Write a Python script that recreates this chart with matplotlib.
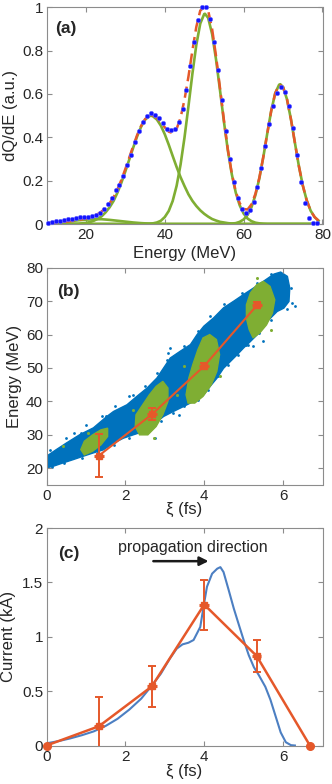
import matplotlib
matplotlib.use('Agg')
import matplotlib.pyplot as plt

plt.rcParams['font.family'] = ['Liberation Sans', 'DejaVu Sans']

# ---------------- Panel (a) data ----------------
dot_energy = [10.5, 11.5, 12.5, 13.5, 14.5, 15.5, 16.5, 17.5, 18.5, 19.5,
              20.5, 21.5, 22.5, 23.5, 24.5, 25.5, 26.5, 27.5, 28.5, 29.5,
              30.5, 31.5, 32.5, 33.5, 34.5, 35.5, 36.5, 37.5, 38.5, 39.5,
              40.5, 41.5, 42.5, 43.5, 44.5, 45.5, 46.5, 47.5, 48.5, 49.5,
              50.5, 51.5, 52.5, 53.5, 54.5, 55.5, 56.5, 57.5, 58.5, 59.5,
              60.5, 61.5, 62.5, 63.5, 64.5, 65.5, 66.5, 67.5, 68.5, 69.5,
              70.5, 71.5, 72.5, 73.5, 74.5, 75.5, 76.5, 77.5, 78.5]
dot_dqde = [0.006, 0.009, 0.012, 0.015, 0.018, 0.021, 0.024, 0.027, 0.030, 0.032,
            0.033, 0.035, 0.040, 0.050, 0.070, 0.090, 0.120, 0.155, 0.180, 0.220,
            0.270, 0.320, 0.380, 0.430, 0.470, 0.500, 0.510, 0.505, 0.490, 0.465,
            0.440, 0.435, 0.440, 0.470, 0.530, 0.620, 0.730, 0.840, 0.940, 1.000,
            1.000, 0.945, 0.840, 0.710, 0.570, 0.430, 0.300, 0.195, 0.120, 0.068,
            0.050, 0.065, 0.100, 0.170, 0.260, 0.360, 0.460, 0.545, 0.605, 0.630,
            0.610, 0.545, 0.445, 0.320, 0.195, 0.098, 0.026, 0.003, 0.003]

fit_energy = [10, 11, 12, 13, 14, 15, 16, 17, 18, 19, 20, 21, 22, 23, 24, 25, 26,
              27, 28, 29, 30, 31, 32, 33, 34, 35, 36, 37, 38, 39, 40, 41, 42, 43,
              44, 45, 46, 47, 48, 49, 50, 51, 52, 53, 54, 55, 56, 57, 58, 59, 60,
              61, 62, 63, 64, 65, 66, 67, 68, 69, 70, 71, 72, 73, 74, 75, 76, 77,
              78, 79]
fit_dqde = [0.003, 0.005, 0.006, 0.008, 0.009, 0.011, 0.013, 0.015, 0.018, 0.022,
            0.025, 0.030, 0.037, 0.046, 0.058, 0.075, 0.096, 0.123, 0.160, 0.204,
            0.254, 0.307, 0.360, 0.411, 0.453, 0.484, 0.500, 0.502, 0.490, 0.470,
            0.446, 0.426, 0.420, 0.439, 0.490, 0.574, 0.680, 0.800, 0.910, 0.985,
            1.000, 0.985, 0.900, 0.775, 0.628, 0.479, 0.343, 0.233, 0.150, 0.096,
            0.069, 0.067, 0.091, 0.140, 0.215, 0.311, 0.419, 0.523, 0.603, 0.643,
            0.632, 0.575, 0.483, 0.375, 0.268, 0.178, 0.109, 0.061, 0.032, 0.015]

comp0_energy = [10, 12, 14, 16, 18, 20, 22, 24, 26, 28, 30, 32, 34, 36, 38, 40, 79]
comp0_dqde = [0.003, 0.006, 0.009, 0.013, 0.017, 0.020, 0.022, 0.022, 0.019, 0.015,
              0.011, 0.007, 0.004, 0.002, 0.001, 0.0, 0.0]

comp1_energy = [10, 18, 19, 20, 21, 22, 23, 24, 25, 26, 27, 28, 29, 30, 31, 32, 33,
                34, 35, 36, 36.5, 37, 38, 39, 40, 41, 42, 43, 44, 45, 46, 47, 48,
                49, 50, 51, 52, 53, 54, 55, 56, 57, 58, 60, 79]
comp1_dqde = [0.0, 0.001, 0.003, 0.005, 0.009, 0.015, 0.024, 0.036, 0.054, 0.077,
              0.106, 0.145, 0.191, 0.243, 0.298, 0.353, 0.405, 0.449, 0.481, 0.497,
              0.500, 0.497, 0.482, 0.454, 0.414, 0.366, 0.314, 0.263, 0.216, 0.175,
              0.137, 0.107, 0.083, 0.063, 0.047, 0.034, 0.023, 0.016, 0.010, 0.007,
              0.004, 0.002, 0.001, 0.0, 0.0]

comp2_energy = [10, 35, 36, 37, 38, 39, 40, 41, 42, 43, 44, 45, 46, 47, 48, 49, 50,
                50.2, 51, 52, 53, 54, 55, 56, 57, 58, 59, 60, 61, 62, 63, 64, 65,
                66, 79]
comp2_dqde = [0.0, 0.0, 0.001, 0.003, 0.007, 0.015, 0.032, 0.060, 0.106, 0.176,
              0.274, 0.399, 0.543, 0.693, 0.827, 0.925, 0.969, 0.970, 0.951, 0.877,
              0.759, 0.618, 0.472, 0.339, 0.229, 0.145, 0.086, 0.048, 0.025, 0.013,
              0.006, 0.003, 0.001, 0.0, 0.0]

comp3_energy = [10, 55, 56, 57, 58, 59, 60, 61, 62, 63, 64, 65, 66, 67, 68, 69, 69.3,
                70, 71, 72, 73, 74, 75, 76, 77, 78, 79]
comp3_dqde = [0.0, 0.0, 0.001, 0.002, 0.004, 0.010, 0.021, 0.042, 0.078, 0.134,
              0.212, 0.310, 0.419, 0.523, 0.603, 0.643, 0.645, 0.632, 0.575, 0.483,
              0.375, 0.268, 0.178, 0.109, 0.061, 0.032, 0.015]

# ---------------- Panel (b) data ----------------
cloud_xi = [0.0, 0.25, 0.51, 0.85, 1.19, 1.53, 1.70, 2.04, 2.29, 2.55, 2.80, 2.97,
            3.14, 3.39, 3.65, 3.82, 3.99, 4.24, 4.49, 4.75, 5.00, 5.26, 5.51,
            5.77, 5.94, 6.11, 6.17, 6.15, 6.02, 5.85, 5.68, 5.51, 5.34, 5.17,
            5.00, 4.83, 4.66, 4.49, 4.32, 4.15, 3.99, 3.73, 3.48, 3.22, 2.97,
            2.70, 2.46, 2.20, 1.95, 1.70, 1.44, 1.19, 0.93, 0.68, 0.42, 0.17, 0.0]
cloud_energy = [23.6, 25.6, 27.6, 30.1, 32.1, 35.5, 37.0, 39.0, 41.5, 44.0, 47.0,
                50.0, 53.0, 55.0, 57.0, 60.0, 62.5, 65.0, 68.0, 70.0, 72.0, 74.0,
                76.0, 78.1, 78.7, 77.4, 73.9, 69.9, 67.9, 66.9, 64.9, 62.9, 59.9,
                57.9, 56.0, 53.9, 51.9, 49.9, 46.9, 44.5, 42.0, 40.0, 38.5, 37.0,
                35.5, 33.0, 31.0, 30.0, 29.0, 27.5, 25.5, 24.6, 23.6, 22.6, 21.6,
                20.6, 20.1]
cloud_out_xi = [2.74, 2.19, 3.08, 5.50, 6.30, 6.22, 3.37, 3.12, 5.24, 5.07, 1.51,
                0.87, 2.44,
                0.10, 0.50, 0.70, 1.00, 1.40, 1.75, 2.10, 2.50, 2.80, 3.05, 3.50,
                3.85, 4.15, 4.50, 4.95, 5.35, 5.70, 6.00, 6.20,
                6.10, 5.70, 5.40, 5.10, 4.85, 4.60, 4.35, 4.10, 3.85, 3.50, 3.20,
                2.90, 2.50, 2.10, 1.70, 1.30, 0.90, 0.45, 0.15]
cloud_out_energy = [29.0, 42.0, 54.5, 58.0, 68.4, 69.4, 36.0, 56.0, 56.5, 57.0,
                    35.5, 30.5, 41.5,
                    25.5, 29.0, 30.5, 33.0, 35.5, 38.5, 41.5, 44.5, 48.5, 52.5,
                    56.5, 61.0, 65.5, 69.0, 72.5, 75.5, 78.0, 77.5, 74.0,
                    67.5, 64.5, 60.5, 57.0, 54.0, 51.0, 47.5, 43.5, 40.5, 38.5,
                    36.5, 34.0, 31.0, 29.0, 27.0, 24.8, 23.0, 21.5, 20.3]

green1_xi = [0.87, 0.96, 1.17, 1.38, 1.55, 1.55, 1.38, 1.17, 0.96]
green1_energy = [25.6, 28.1, 30.0, 31.5, 32.0, 29.5, 27.0, 25.1, 24.0]
green2_xi = [2.27, 2.44, 2.61, 2.78, 2.95, 3.08, 3.08, 2.95, 2.78, 2.57, 2.36, 2.25]
green2_energy = [36.0, 39.0, 42.0, 44.5, 46.0, 44.0, 40.0, 36.0, 32.5, 30.0, 30.0,
                 32.5]
green3_xi = [3.54, 3.61, 3.71, 3.84, 3.97, 4.14, 4.31, 4.39, 4.32, 4.18, 3.97, 3.76,
             3.59]
green3_energy = [42.0, 47.0, 51.0, 55.5, 59.0, 60.0, 58.5, 54.0, 49.0, 45.0, 41.5,
                 39.5, 39.5]
green4_xi = [5.07, 5.17, 5.33, 5.50, 5.67, 5.79, 5.73, 5.58, 5.41, 5.24, 5.14, 5.07]
green4_energy = [68.9, 72.4, 74.9, 75.9, 74.4, 70.4, 66.4, 62.9, 60.5, 59.0, 61.5,
                 64.9]
green_out_xi = [0.42, 2.73, 4.40, 5.70, 3.30, 1.05, 2.20, 3.50, 5.35]
green_out_energy = [26.8, 29.2, 47.5, 61.5, 42.0, 30.5, 37.5, 50.5, 77.0]

slice_xi = [1.33, 2.67, 4.00, 5.34]
slice_energy = [23.8, 36.1, 50.6, 68.8]
slice_err_low = [6.3, 1.8, 1.0, 0.8]
slice_err_high = [6.5, 1.8, 1.0, 0.8]

# ---------------- Panel (c) data ----------------
sim_xi = [0.0, 0.3, 0.6, 0.9, 1.2, 1.5, 1.8, 2.1, 2.4, 2.67, 2.9, 3.13, 3.3, 3.45,
          3.6, 3.73, 3.9, 3.98, 4.07, 4.2, 4.33, 4.41, 4.49, 4.62, 4.75, 4.87,
          5.0, 5.13, 5.26, 5.38, 5.55, 5.68, 5.81, 5.94, 6.07, 6.2, 6.3]
sim_current = [0.02, 0.04, 0.065, 0.095, 0.13, 0.18, 0.245, 0.33, 0.43, 0.55,
               0.66, 0.80, 0.89, 0.93, 0.945, 0.97, 1.09, 1.27, 1.46, 1.58, 1.626,
               1.64, 1.595, 1.43, 1.26, 1.12, 0.97, 0.83, 0.72, 0.65, 0.54, 0.42,
               0.27, 0.12, 0.03, 0.003, 0.0]

meas_xi = [0.0, 1.33, 2.67, 4.00, 5.33, 6.68]
meas_current = [0.0, 0.177, 0.543, 1.296, 0.823, 0.0]
meas_err = [0.0, 0.27, 0.19, 0.23, 0.15, 0.0]

# ---------------- styling ----------------
W, H = 332, 784
BLUE_DOT = '#1414ff'
ORANGE = '#E5582A'
GREEN = '#7FAE33'
CLOUD_BLUE = '#0072BD'
SIM_BLUE = '#4C7FC2'
SPINE = '#8c8c8c'
TXT = '#262626'

fig = plt.figure(figsize=(W / 100, H / 100), dpi=100)


def make_ax(top, bottom, left=46.5, right=322.5):
    return fig.add_axes([left / W, (H - bottom) / H, (right - left) / W,
                         (bottom - top) / H])


def style(ax):
    for s in ax.spines.values():
        s.set_color(SPINE)
        s.set_linewidth(0.8)
    ax.tick_params(direction='in', top=True, right=True, length=3.5, width=0.8,
                   color=SPINE, labelcolor=TXT, labelsize=11)
    ax.tick_params(axis='y', pad=2.5)
    ax.tick_params(axis='x', pad=3)


# Panel (a)
ax1 = make_ax(7.3, 224)
for ce, cv in [(comp0_energy, comp0_dqde), (comp1_energy, comp1_dqde),
               (comp2_energy, comp2_dqde), (comp3_energy, comp3_dqde)]:
    ax1.plot(ce, cv, color=GREEN, lw=1.9, zorder=2)
ax1.plot(fit_energy, fit_dqde, color=ORANGE, lw=1.8, ls=(0, (4.5, 2.2)), zorder=3)
ax1.plot(dot_energy, dot_dqde, 'o', color=BLUE_DOT, ms=3.2, mec='#6b6bff',
         mew=0.4, zorder=4, clip_on=False)
ax1.set_xlim(10, 80)
ax1.set_ylim(0, 1)
ax1.set_xticks([20, 40, 60, 80])
ax1.set_xticklabels(['20', '40', '60', '80'])
ax1.set_yticks([0, 0.2, 0.4, 0.6, 0.8, 1.0])
ax1.set_yticklabels(['0', '0.2', '0.4', '0.6', '0.8', '1'])
ax1.set_xlabel('Energy (MeV)', fontsize=12, color=TXT)
ax1.set_ylabel('dQ/dE (a.u.)', fontsize=12, color=TXT)
ax1.xaxis.set_label_coords(0.5, -0.1)
ax1.yaxis.set_label_coords(-0.105, 0.5)
ax1.text(12.2, 0.9, '(a)', fontsize=12.5, fontweight='bold', color=TXT,
         va='center', ha='left')
style(ax1)

# Panel (b)
ax2 = make_ax(267.7, 485)
ax2.fill(cloud_xi, cloud_energy, color=CLOUD_BLUE, lw=1.0, zorder=1)
ax2.plot(cloud_out_xi, cloud_out_energy, 'o', color=CLOUD_BLUE, ms=2.0, mew=0,
         zorder=1)
for gx, ge in [(green1_xi, green1_energy), (green2_xi, green2_energy),
               (green3_xi, green3_energy), (green4_xi, green4_energy)]:
    ax2.fill(gx, ge, color=GREEN, lw=1.0, zorder=2)
ax2.plot(green_out_xi, green_out_energy, 'o', color=GREEN, ms=2.2, mew=0, zorder=2)
ax2.plot(slice_xi, slice_energy, '-', color=ORANGE, lw=1.5, zorder=3)
ax2.errorbar(slice_xi, slice_energy, yerr=[slice_err_low, slice_err_high],
             fmt='s', color=ORANGE, ms=5, lw=1.4, capsize=3, capthick=1.4,
             zorder=4)
ax2.errorbar(slice_xi, slice_energy, xerr=0.12, fmt='none', ecolor=ORANGE,
             lw=2.2, capsize=0, zorder=4)
ax2.set_xlim(0, 7)
ax2.set_ylim(15, 80)
ax2.set_xticks([0, 2, 4, 6])
ax2.set_xticklabels(['0', '2', '4', '6'])
ax2.set_yticks([20, 30, 40, 50, 60, 70, 80])
ax2.set_yticklabels(['20', '30', '40', '50', '60', '70', '80'])
ax2.set_xlabel('ξ (fs)', fontsize=12, color=TXT)
ax2.set_ylabel('Energy (MeV)', fontsize=12, color=TXT)
ax2.xaxis.set_label_coords(0.5, -0.08)
ax2.yaxis.set_label_coords(-0.09, 0.5)
ax2.text(0.26, 72.9, '(b)', fontsize=12.5, fontweight='bold', color=TXT,
         va='center', ha='left')
style(ax2)

# Panel (c)
ax3 = make_ax(528, 745.5)
ax3.plot(sim_xi, sim_current, color=SIM_BLUE, lw=1.5, zorder=2)
ax3.plot(meas_xi, meas_current, '-', color=ORANGE, lw=1.8, zorder=3)
ax3.errorbar(meas_xi[1:-1], meas_current[1:-1], yerr=meas_err[1:-1], fmt='s',
             color=ORANGE, ms=5, lw=1.4, capsize=3, capthick=1.4, zorder=4)
ax3.errorbar(meas_xi[1:-1], meas_current[1:-1], xerr=0.12, fmt='none',
             ecolor=ORANGE, lw=2.2, capsize=0, zorder=4)
ax3.plot([meas_xi[0], meas_xi[-1]], [meas_current[0], meas_current[-1]], 'o',
         color=ORANGE, ms=5.5, zorder=5, clip_on=False)
ax3.annotate('', xy=(4.11, 1.695), xytext=(2.71, 1.695),
             arrowprops=dict(arrowstyle='-|>', color='#1a1a1a', lw=1.8,
                             mutation_scale=13, shrinkA=0, shrinkB=0))
ax3.text(3.71, 1.82, 'propagation direction', fontsize=11.5, color=TXT,
         ha='center', va='center')
ax3.set_xlim(0, 7)
ax3.set_ylim(0, 2)
ax3.set_xticks([0, 2, 4, 6])
ax3.set_xticklabels(['0', '2', '4', '6'])
ax3.set_yticks([0, 0.5, 1, 1.5, 2])
ax3.set_yticklabels(['0', '0.5', '1', '1.5', '2'])
ax3.set_xlabel('ξ (fs)', fontsize=12, color=TXT)
ax3.set_ylabel('Current (kA)', fontsize=12, color=TXT)
ax3.xaxis.set_label_coords(0.5, -0.085)
ax3.yaxis.set_label_coords(-0.11, 0.5)
ax3.text(0.3, 1.77, '(c)', fontsize=12.5, fontweight='bold', color=TXT,
         va='center', ha='left')
style(ax3)

fig.savefig('out.png', dpi=100)
